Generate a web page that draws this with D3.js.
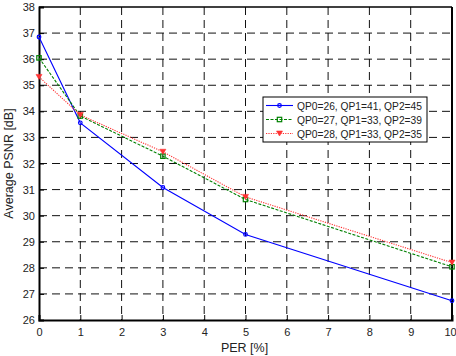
<!DOCTYPE html>
<html>
<head>
<meta charset="utf-8">
<script src="https://cdn.jsdelivr.net/npm/d3@7"></script>
<style>
  html, body { margin: 0; padding: 0; background: #fff; }
  svg { display: block; font-family: "Liberation Sans", Arial, sans-serif; }
</style>
</head>
<body>
<svg id="chart" width="456" height="356"></svg>
<script>
// PER values (x) and PSNR per configuration
const perValues = [0, 1, 3, 5, 10];
const seriesNames = ['QP0=26, QP1=41, QP2=45', 'QP0=27, QP1=33, QP2=39', 'QP0=28, QP1=33, QP2=35'];
const psnrA = [36.85, 33.56, 31.08, 29.28, 26.74];
const psnrB = [36.05, 33.82, 32.28, 30.62, 28.04];
const psnrC = [35.32, 33.86, 32.45, 30.72, 28.20];
const xTicks = [0, 1, 2, 3, 4, 5, 6, 7, 8, 9, 10];
const yTicks = [26, 27, 28, 29, 30, 31, 32, 33, 34, 35, 36, 37, 38];

const margin = { top: 7, right: 4, bottom: 36, left: 39 };
const W = 456, H = 356;
const width = W - margin.left - margin.right;
const height = H - margin.top - margin.bottom;

const svg = d3.select('#chart');
const g = svg.append('g').attr('transform', `translate(${margin.left},${margin.top})`);

const x = d3.scaleLinear().domain([0, 10]).range([0, width]);
const y = d3.scaleLinear().domain([26, 38]).range([height, 0]);

// grid (dashed, matlab style)
g.append('g')
  .selectAll('line')
  .data(xTicks.slice(1, -1))
  .join('line')
  .attr('x1', d => x(d)).attr('x2', d => x(d))
  .attr('y1', 0).attr('y2', height)
  .attr('stroke', '#111').attr('stroke-width', 1)
  .attr('stroke-dasharray', '8,5');

g.append('g')
  .selectAll('line')
  .data(yTicks.slice(1, -1))
  .join('line')
  .attr('x1', 0).attr('x2', width)
  .attr('y1', d => y(d)).attr('y2', d => y(d))
  .attr('stroke', '#111').attr('stroke-width', 1)
  .attr('stroke-dasharray', '8,5');

// axes with inward ticks
const xAxis = g.append('g')
  .attr('transform', `translate(0,${height})`)
  .call(d3.axisBottom(x).tickValues(xTicks).tickSize(-5).tickPadding(9).tickFormat(d3.format('d')));
const yAxis = g.append('g')
  .call(d3.axisLeft(y).tickValues(yTicks).tickSize(-5).tickPadding(4).tickFormat(d3.format('d')));

[xAxis, yAxis].forEach(a => {
  a.select('.domain').attr('stroke', '#000').attr('stroke-width', 2);
  a.selectAll('.tick line').attr('stroke', '#000');
  a.selectAll('.tick text')
    .attr('font-size', '11px')
    .attr('fill', '#222')
    .attr('font-family', '"Liberation Sans", Arial, sans-serif');
});
xAxis.selectAll('.tick text').attr('dy', '0.6em');
// the last label sits on the right edge, pull it in a little
xAxis.selectAll('.tick text').filter(d => d === 10).attr('dx', '-2');

// top and right box lines
g.append('line').attr('x1', 0).attr('x2', width).attr('y1', 0).attr('y2', 0)
  .attr('stroke', '#000').attr('stroke-width', 1.5);
g.append('line').attr('x1', width).attr('x2', width).attr('y1', 0).attr('y2', height)
  .attr('stroke', '#000').attr('stroke-width', 2);

// axis labels
svg.append('text')
  .attr('x', margin.left + width / 2 - 1)
  .attr('y', 352)
  .attr('text-anchor', 'middle')
  .attr('font-size', '12.5px')
  .attr('fill', '#222')
  .text('PER [%]');

svg.append('text')
  .attr('transform', `translate(13,${margin.top + height / 2}) rotate(-90)`)
  .attr('text-anchor', 'middle')
  .attr('font-size', '12.5px')
  .attr('fill', '#222')
  .text('Average PSNR [dB]');

const series = [
  { name: seriesNames[0], values: psnrA, color: '#0000ff', dash: null, marker: 'circle' },
  { name: seriesNames[1], values: psnrB, color: '#008000', dash: '3,1.5', marker: 'square' },
  { name: seriesNames[2], values: psnrC, color: '#ff3333', dash: '1.2,1.2', marker: 'triangle' },
];

const line = d3.line().x((d, i) => x(perValues[i])).y(d => y(d));

function drawMarker(sel, s, cx, cy) {
  if (s.marker === 'circle') {
    sel.append('circle').attr('cx', cx).attr('cy', cy).attr('r', 1.8)
      .attr('fill', 'none').attr('stroke', s.color).attr('stroke-width', 1.2);
  } else if (s.marker === 'square') {
    sel.append('rect').attr('x', cx - 2.2).attr('y', cy - 2.2).attr('width', 4.4).attr('height', 4.4)
      .attr('fill', 'none').attr('stroke', s.color).attr('stroke-width', 1.2);
  } else {
    sel.append('path')
      .attr('d', `M${cx - 3},${cy - 2.5} L${cx + 3},${cy - 2.5} L${cx},${cy + 2.5} Z`)
      .attr('fill', s.color).attr('stroke', s.color).attr('stroke-width', 0.6);
  }
}

const plot = g.append('g');
series.forEach(s => {
  plot.append('path')
    .datum(s.values)
    .attr('d', line)
    .attr('fill', 'none')
    .attr('stroke', s.color)
    .attr('stroke-width', 1.1)
    .attr('stroke-dasharray', s.dash);
  s.values.forEach((v, i) => drawMarker(plot, s, x(perValues[i]), y(v)));
});

// legend
const lg = svg.append('g').attr('transform', 'translate(263,97)');
lg.append('rect').attr('x', 0).attr('y', 0).attr('width', 164).attr('height', 45)
  .attr('fill', '#fff').attr('stroke', '#000').attr('stroke-width', 1);
series.forEach((s, i) => {
  const ly = 8.5 + i * 14;
  lg.append('line').attr('x1', 3).attr('x2', 30).attr('y1', ly).attr('y2', ly)
    .attr('stroke', s.color).attr('stroke-width', 1.1).attr('stroke-dasharray', s.dash);
  drawMarker(lg, s, 16.5, ly);
  lg.append('text').attr('x', 34).attr('y', ly + 4)
    .attr('font-size', '10.5px').attr('fill', '#222')
    .attr('textLength', 125).attr('lengthAdjust', 'spacingAndGlyphs')
    .text(s.name);
});
</script>
</body>
</html>
